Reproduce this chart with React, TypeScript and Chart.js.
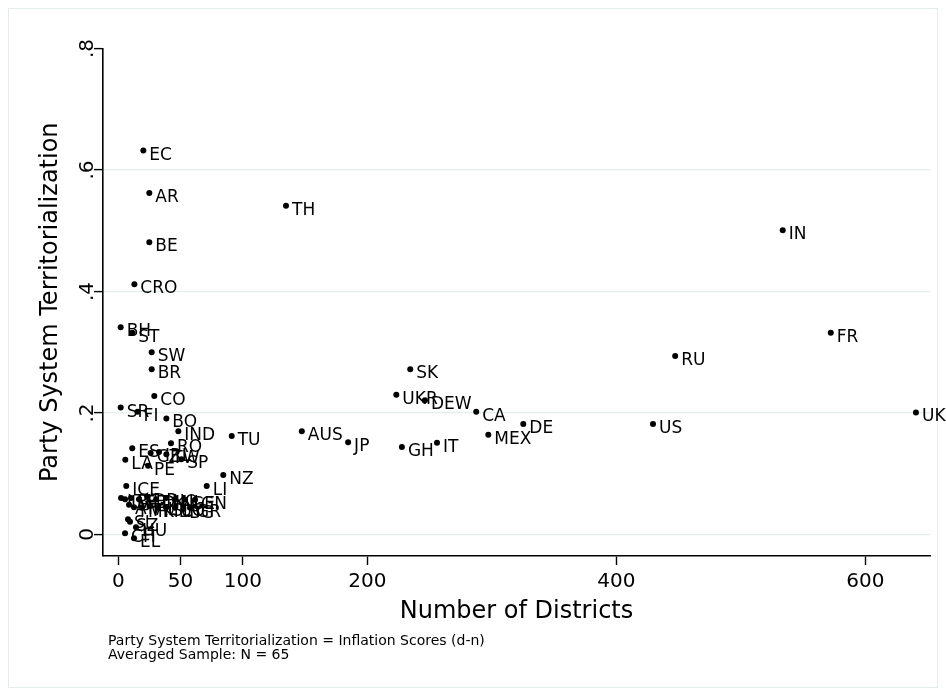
import { useEffect, useRef } from "react";
import { Chart, registerables } from "chart.js";

Chart.register(...registerables);

const countries = [
  "EC", "AR", "BE", "CRO", "TH", "IN", "FR", "BH", "ST", "SW",
  "BR", "CO", "SR", "FI", "BO", "IND", "RO", "TU", "ES", "LA",
  "PE", "SP", "NZ", "LI", "ICE", "SK", "UKR", "DEW", "CA", "DE",
  "MEX", "IT", "GH", "JP", "AUS", "US", "RU", "UK", "SL", "SZ",
  "CH", "HU", "EL", "CZ", "TW", "IRL",
  "LT", "LV", "PL", "EE", "DR", "DK", "NO", "NL", "GE", "GN",
  "AT", "PT", "MK", "AL", "MD", "SLO", "CY", "BG", "GR",
];

const districts = [
  20.1, 24.9, 24.9, 12.9, 134.7, 533.7, 572.3, 1.9, 11.2, 26.8,
  26.8, 28.9, 1.9, 15.5, 38.6, 48.2, 42.3, 91.1, 11.2, 5.6,
  23.9, 50.6, 84.3, 71.0, 6.4, 234.5, 223.3, 246.3, 287.5, 325.3,
  297.2, 256.0, 227.8, 184.6, 147.4, 429.5, 447.3, 640.7, 7.8, 9.4,
  5.4, 14.2, 12.6, 26.0, 38.6, 32.7,
  2.2, 5.4, 10.2, 16.6, 23.1, 30.3, 38.3, 45.5, 53.6, 61.6,
  8.6, 12.6, 19.0, 25.5, 31.9, 38.3, 45.5, 52.2, 57.6,
];

const territorialization = [
  0.632, 0.562, 0.481, 0.412, 0.541, 0.501, 0.332, 0.341, 0.332, 0.300,
  0.272, 0.228, 0.209, 0.202, 0.191, 0.170, 0.150, 0.162, 0.142, 0.123,
  0.113, 0.124, 0.098, 0.080, 0.080, 0.272, 0.230, 0.221, 0.202, 0.182,
  0.164, 0.151, 0.144, 0.152, 0.170, 0.182, 0.294, 0.201, 0.025, 0.021,
  0.002, 0.012, -0.006, 0.134, 0.132, 0.136,
  0.060, 0.058, 0.060, 0.058, 0.062, 0.058, 0.060, 0.058, 0.057, 0.057,
  0.049, 0.045, 0.044, 0.047, 0.044, 0.045, 0.044, 0.042, 0.044,
];

const xTickValues = [0, 50, 100, 200, 400, 600];
const xTickLabels = ["0", "50", "100", "200", "400", "600"];
const yTickValues = [0, 0.2, 0.4, 0.6, 0.8];
const yTickLabels = ["0", ".2", ".4", ".6", ".8"];
const xTitle = "Number of Districts";
const yTitle = "Party System Territorialization";
const notes = [
  "Party System Territorialization = Inflation Scores (d-n)",
  "Averaged Sample: N = 65",
];

const FONT = '"DejaVu Sans", sans-serif';

const decorPlugin = {
  id: "decor",
  beforeDraw(chart: any) {
    const ctx = chart.ctx;
    ctx.save();
    ctx.fillStyle = "#ffffff";
    ctx.fillRect(0, 0, chart.width, chart.height);
    ctx.strokeStyle = "#e4ecec";
    ctx.lineWidth = 1;
    ctx.strokeRect(8.5, 8.5, 929, 679);
    ctx.restore();
  },
  afterDraw(chart: any) {
    const ctx = chart.ctx;
    const xs = chart.scales.x;
    const ys = chart.scales.y;
    const area = chart.chartArea;
    ctx.save();
    ctx.fillStyle = "#000";

    // y tick labels (rotated)
    ctx.font = `20px ${FONT}`;
    ctx.textAlign = "center";
    ctx.textBaseline = "alphabetic";
    yTickValues.forEach((v, i) => {
      const py = ys.getPixelForValue(v);
      ctx.save();
      ctx.translate(93, py);
      ctx.rotate(-Math.PI / 2);
      ctx.fillText(yTickLabels[i], 0, 0);
      ctx.restore();
    });

    // x tick labels
    xTickValues.forEach((v, i) => {
      const px = xs.getPixelForValue(v);
      ctx.fillText(xTickLabels[i], px, 587);
    });

    // axis titles
    ctx.font = `24px ${FONT}`;
    ctx.fillText(xTitle, (area.left + area.right) / 2, 618);
    ctx.save();
    ctx.translate(57, (area.top + area.bottom) / 2);
    ctx.rotate(-Math.PI / 2);
    ctx.fillText(yTitle, 0, 0);
    ctx.restore();

    // notes
    ctx.font = `14px ${FONT}`;
    ctx.textAlign = "left";
    ctx.fillText(notes[0], 108, 645);
    ctx.fillText(notes[1], 108, 659);

    // point labels
    ctx.font = `17px ${FONT}`;
    const meta = chart.getDatasetMeta(0);
    meta.data.forEach((pt: any, i: number) => {
      ctx.fillText(countries[i], pt.x + 6, pt.y + 9);
    });
    ctx.restore();
  },
};

export default function App() {
  const ref = useRef<HTMLCanvasElement | null>(null);

  useEffect(() => {
    if (!ref.current) return;
    const data = districts.map((d, i) => ({ x: d, y: territorialization[i] }));
    const chart = new Chart(ref.current, {
      type: "scatter",
      data: {
        datasets: [
          {
            data,
            backgroundColor: "#000",
            borderColor: "#000",
            pointRadius: 3,
            pointBorderWidth: 0,
          },
        ],
      },
      options: {
        animation: false,
        responsive: false,
        events: [],
        layout: { padding: { top: 48.5, right: 16, left: 0, bottom: 0 } },
        plugins: {
          legend: { display: false },
          tooltip: { enabled: false },
        },
        scales: {
          x: {
            type: "linear",
            min: -12.3,
            max: 652,
            afterBuildTicks: (s: any) => {
              s.ticks = xTickValues.map((v) => ({ value: v }));
            },
            afterFit: (s: any) => {
              s.height = 140;
            },
            ticks: { display: false },
            grid: {
              display: true,
              drawOnChartArea: false,
              drawTicks: true,
              tickLength: 9,
              tickColor: "#000",
              tickWidth: 1.4,
            },
            border: { display: true, color: "#000", width: 1.6 },
          },
          y: {
            type: "linear",
            min: -0.0354,
            max: 0.8,
            afterBuildTicks: (s: any) => {
              s.ticks = yTickValues.map((v) => ({ value: v }));
            },
            afterFit: (s: any) => {
              s.width = 103;
            },
            ticks: { display: false },
            grid: {
              display: true,
              drawOnChartArea: true,
              drawTicks: true,
              tickLength: 9,
              tickColor: "#000",
              tickWidth: 1.4,
              lineWidth: 1.2,
              color: (c: any) =>
                c.tick && Math.abs(c.tick.value - 0.8) < 1e-9 ? "rgba(0,0,0,0)" : "#e5eeee",
            },
            border: { display: true, color: "#000", width: 1.6 },
          },
        },
      },
      plugins: [decorPlugin],
    });
    return () => chart.destroy();
  }, []);

  return (
    <div style={{ position: "fixed", left: 0, top: 0, width: 946, height: 696, background: "#fff" }}>
      <canvas ref={ref} width={946} height={696} style={{ width: 946, height: 696, display: "block" }} />
    </div>
  );
}
